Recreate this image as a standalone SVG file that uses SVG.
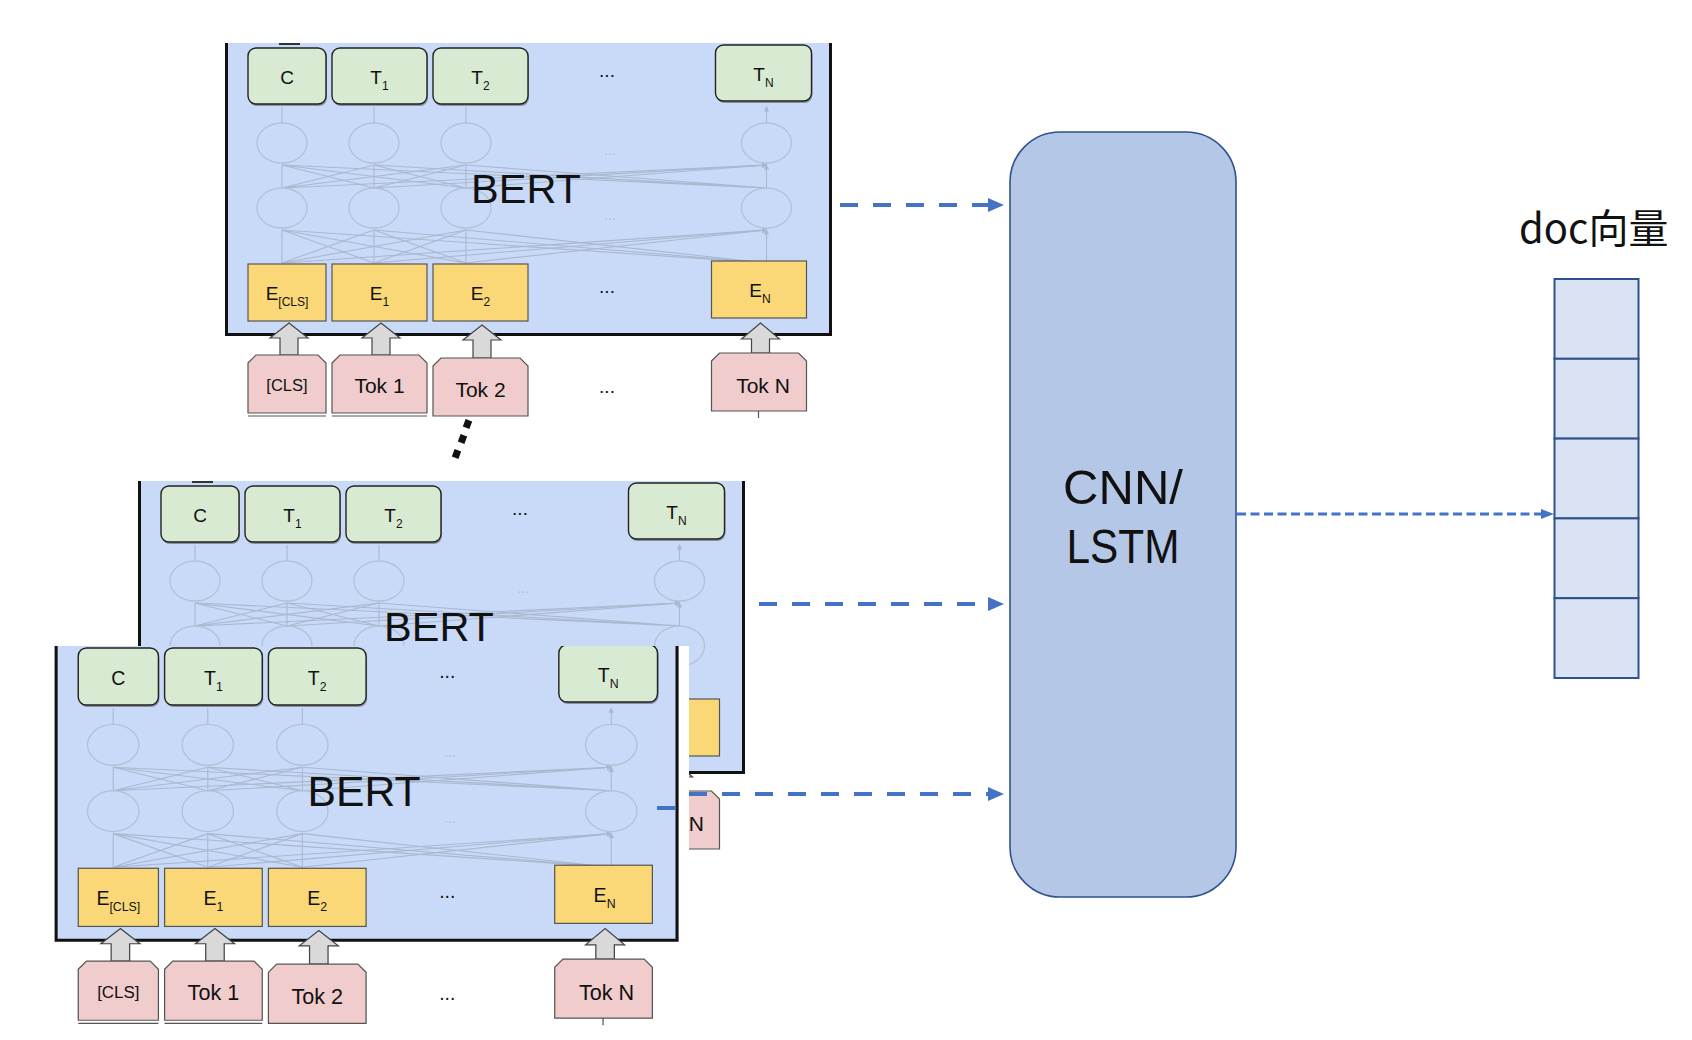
<svg xmlns="http://www.w3.org/2000/svg" xmlns:xlink="http://www.w3.org/1999/xlink" width="1692" height="1040" viewBox="0 0 1692 1040">
<style>
.bg{fill:#c9daf8}
.bd{fill:none;stroke:#111;stroke-width:3}
.g{fill:#d9ead3;stroke:#222;stroke-width:1.4}
.gs{fill:#555;opacity:.55}
.y{fill:#fad878;stroke:#555;stroke-width:1.2}
.p{fill:#f0cccc;stroke:#555;stroke-width:1.2}
.pl{stroke:#555;stroke-width:1.2}
.ar{fill:#d9d9d9;stroke:#444;stroke-width:1.2}
.lb{font-family:"Liberation Sans",Arial,sans-serif;font-size:19px;fill:#111;text-anchor:middle}
.tk{font-family:"Liberation Sans",Arial,sans-serif;font-size:21px;fill:#111;text-anchor:middle}
.cls{font-family:"Liberation Sans",Arial,sans-serif;font-size:16.5px;fill:#111;text-anchor:middle}
.sb{font-size:12px}
.bert{font-family:"Liberation Sans",Arial,sans-serif;font-size:41.5px;fill:#111;text-anchor:middle}
.nl{stroke:#aab8cf;stroke-width:1.1;fill:none}
.nc{stroke:#b3c0d6;stroke-width:1.3;fill:none}
.nd{font-family:"Liberation Sans",Arial,sans-serif;font-size:14px;fill:#b0bdd2;text-anchor:middle}
.big{font-family:"Liberation Sans",Arial,sans-serif;fill:#111}
.cjk{font-family:"Noto Sans CJK SC","Noto Sans",sans-serif;fill:#111}
.dash{stroke:#4472c4;stroke-width:4;fill:none;stroke-dasharray:18 15}
.dash2{stroke:#4472c4;stroke-width:3;fill:none;stroke-dasharray:9 4.5}
.ah{fill:#4472c4}
</style>
<defs>
<marker id="nm" viewBox="0 0 6 6" refX="5" refY="3" markerWidth="5" markerHeight="5" orient="auto"><path d="M0,0 L6,3 L0,6 Z" fill="#aab8cf"/></marker>
<g id="net">
<g class="nl" marker-end="url(#nm)">
<path d="M282,263 L282,230 M282,263 L374,230 M282,263 L466,230 M282,263 L766.5,230"/>
<path d="M374,263 L282,230 M374,263 L374,230 M374,263 L466,230 M374,263 L766.5,230"/>
<path d="M466,263 L282,230 M466,263 L374,230 M466,263 L466,230 M466,263 L766.5,230"/>
<path d="M766.5,263 L282,230 M766.5,263 L374,230 M766.5,263 L466,230 M766.5,263 L766.5,230"/>
<path d="M282,188 L282,165 M282,188 L374,165 M282,188 L466,165 M282,188 L766.5,165"/>
<path d="M374,188 L282,165 M374,188 L374,165 M374,188 L466,165 M374,188 L766.5,165"/>
<path d="M466,188 L282,165 M466,188 L374,165 M466,188 L466,165 M466,188 L766.5,165"/>
<path d="M766.5,188 L282,165 M766.5,188 L374,165 M766.5,188 L466,165 M766.5,188 L766.5,165"/>
<path d="M282,123 L282,107 M374,123 L374,107 M466,123 L466,107 M766.5,123 L766.5,107"/>
</g>
<g class="nc">
<ellipse cx="282" cy="143" rx="25" ry="20"/><ellipse cx="374" cy="143" rx="25" ry="20"/><ellipse cx="466" cy="143" rx="25" ry="20"/><ellipse cx="766.5" cy="143" rx="25" ry="20"/>
<ellipse cx="282" cy="208" rx="25" ry="20"/><ellipse cx="374" cy="208" rx="25" ry="20"/><ellipse cx="466" cy="208" rx="25" ry="20"/><ellipse cx="766.5" cy="208" rx="25" ry="20"/>
</g>
<text class="nd" x="610" y="155">...</text>
<text class="nd" x="610" y="220">...</text>
</g>
<clipPath id="c3" clipPathUnits="userSpaceOnUse"><rect x="0" y="646" width="689" height="394"/></clipPath>
</defs>

<!-- ===== Panel 1 ===== -->
<g id="bert-panel-1">
<rect class="bg" x="228" y="43" width="602" height="291"/>
<use xlink:href="#net" href="#net"/>
<path class="bd" d="M226.5,43 V334.5 H830.5 V43"/>
<rect x="279" y="43" width="21" height="2" fill="#333"/>
<g id="p1-c"><rect class="gs" x="249" y="50" width="78" height="56" rx="8"/><rect class="g" x="248" y="48" width="78" height="56" rx="8"/><text class="lb" x="287" y="84">C</text></g>
<g id="p1-t1"><rect class="gs" x="333" y="50" width="95" height="56" rx="8"/><rect class="g" x="332" y="48" width="95" height="56" rx="8"/><text class="lb" x="379.5" y="84">T<tspan class="sb" dy="6">1</tspan></text></g>
<g id="p1-t2"><rect class="gs" x="434" y="50" width="95" height="56" rx="8"/><rect class="g" x="433" y="48" width="95" height="56" rx="8"/><text class="lb" x="480.5" y="84">T<tspan class="sb" dy="6">2</tspan></text></g>
<g id="p1-tn"><rect class="gs" x="716.5" y="47" width="96" height="56" rx="8"/><rect class="g" x="715.5" y="45" width="96" height="56" rx="8"/><text class="lb" x="763.5" y="81">T<tspan class="sb" dy="6">N</tspan></text></g>
<text class="lb" x="607" y="77">...</text>
<text class="bert" x="526" y="203">BERT</text>
<g id="p1-ecls"><rect class="y" x="248" y="264" width="78" height="57"/><text class="lb" x="287" y="300">E<tspan class="sb" dy="6">[CLS]</tspan></text></g>
<g id="p1-e1"><rect class="y" x="332" y="264" width="95" height="57"/><text class="lb" x="379.5" y="300">E<tspan class="sb" dy="6">1</tspan></text></g>
<g id="p1-e2"><rect class="y" x="433" y="264" width="95" height="57"/><text class="lb" x="480.5" y="300">E<tspan class="sb" dy="6">2</tspan></text></g>
<g id="p1-en"><rect class="y" x="711.5" y="261" width="95" height="57"/><text class="lb" x="760" y="297">E<tspan class="sb" dy="6">N</tspan></text></g>
<text class="lb" x="607" y="293">...</text>
<path class="ar" d="M289,323 L308,338 L298,338 L298,355 L280,355 L280,338 L270,338 Z"/>
<path class="ar" d="M381,323 L400,338 L390,338 L390,355 L372,355 L372,338 L362,338 Z"/>
<path class="ar" d="M482,325 L501,340 L491,340 L491,358 L473,358 L473,340 L463,340 Z"/>
<path class="ar" d="M760.5,323 L779.5,339 L769.5,339 L769.5,353 L751.5,353 L751.5,339 L741.5,339 Z"/>
<g id="p1-tcls"><path class="p" d="M248,363 L256,355 L318,355 L326,363 L326,413 L248,413 Z"/><path class="pl" d="M248,416 H326"/><text class="cls" x="287" y="391">[CLS]</text></g>
<g id="p1-tok1"><path class="p" d="M332,363 L340,355 L419,355 L427,363 L427,413 L332,413 Z"/><path class="pl" d="M332,416 H427"/><text class="tk" x="379.5" y="393">Tok 1</text></g>
<g id="p1-tok2"><path class="p" d="M433,366 L441,358 L520,358 L528,366 L528,416 L433,416 Z"/><text class="tk" x="480.5" y="397">Tok 2</text></g>
<g id="p1-tokn"><path class="p" d="M711.5,361 L719.5,353 L798.5,353 L806.5,361 L806.5,411 L711.5,411 Z"/><path class="pl" d="M758.5,411 V418"/><text class="tk" x="763" y="393">Tok N</text></g>
<text class="lb" x="607" y="393">...</text>
</g>

<!-- continuation dots -->
<g id="dots" fill="#111">
<rect x="464" y="420" width="7" height="8" transform="rotate(20 467.5 424)"/>
<rect x="459" y="435" width="7" height="8" transform="rotate(20 462.5 439)"/>
<rect x="453" y="450" width="7" height="8" transform="rotate(20 456.5 454)"/>
</g>

<!-- ===== Panel 2 ===== -->
<g id="bert-panel-2" transform="translate(-87,438)">
<rect class="bg" x="228" y="43" width="602" height="291"/>
<use xlink:href="#net" href="#net"/>
<path class="bd" d="M226.5,43 V334.5 H830.5 V43"/>
<rect x="279" y="43" width="21" height="2" fill="#333"/>
<g id="p2-c"><rect class="gs" x="249" y="50" width="78" height="56" rx="8"/><rect class="g" x="248" y="48" width="78" height="56" rx="8"/><text class="lb" x="287" y="84">C</text></g>
<g id="p2-t1"><rect class="gs" x="333" y="50" width="95" height="56" rx="8"/><rect class="g" x="332" y="48" width="95" height="56" rx="8"/><text class="lb" x="379.5" y="84">T<tspan class="sb" dy="6">1</tspan></text></g>
<g id="p2-t2"><rect class="gs" x="434" y="50" width="95" height="56" rx="8"/><rect class="g" x="433" y="48" width="95" height="56" rx="8"/><text class="lb" x="480.5" y="84">T<tspan class="sb" dy="6">2</tspan></text></g>
<g id="p2-tn"><rect class="gs" x="716.5" y="47" width="96" height="56" rx="8"/><rect class="g" x="715.5" y="45" width="96" height="56" rx="8"/><text class="lb" x="763.5" y="81">T<tspan class="sb" dy="6">N</tspan></text></g>
<text class="lb" x="607" y="77">...</text>
<text class="bert" x="526" y="203">BERT</text>
<g id="p2-en"><rect class="y" x="711.5" y="261" width="95" height="57"/></g>
<path class="ar" d="M760.5,323 L779.5,339 L769.5,339 L769.5,353 L751.5,353 L751.5,339 L741.5,339 Z"/>
<g id="p2-tokn"><path class="p" d="M711.5,361 L719.5,353 L798.5,353 L806.5,361 L806.5,411 L711.5,411 Z"/><text class="tk" x="764" y="393">Tok N</text></g>
</g>

<!-- ===== Panel 3 ===== -->
<rect x="40" y="646" width="649" height="394" fill="#fff"/>
<g clip-path="url(#c3)">
<g id="bert-panel-3" transform="matrix(1.028 0 0 1.02 -176.7 599)">
<rect class="bg" x="228" y="43" width="602" height="291"/>
<use xlink:href="#net" href="#net"/>
<path class="bd" d="M226.5,43 V334.5 H830.5 V43"/>
<g id="p3-c"><rect class="gs" x="249" y="50" width="78" height="56" rx="8"/><rect class="g" x="248" y="48" width="78" height="56" rx="8"/><text class="lb" x="287" y="84">C</text></g>
<g id="p3-t1"><rect class="gs" x="333" y="50" width="95" height="56" rx="8"/><rect class="g" x="332" y="48" width="95" height="56" rx="8"/><text class="lb" x="379.5" y="84">T<tspan class="sb" dy="6">1</tspan></text></g>
<g id="p3-t2"><rect class="gs" x="434" y="50" width="95" height="56" rx="8"/><rect class="g" x="433" y="48" width="95" height="56" rx="8"/><text class="lb" x="480.5" y="84">T<tspan class="sb" dy="6">2</tspan></text></g>
<g id="p3-tn"><rect class="gs" x="716.5" y="47" width="96" height="56" rx="8"/><rect class="g" x="715.5" y="45" width="96" height="56" rx="8"/><text class="lb" x="763.5" y="81">T<tspan class="sb" dy="6">N</tspan></text></g>
<text class="lb" x="607" y="77">...</text>
<text class="bert" x="526" y="203">BERT</text>
<g id="p3-ecls"><rect class="y" x="248" y="264" width="78" height="57"/><text class="lb" x="287" y="300">E<tspan class="sb" dy="6">[CLS]</tspan></text></g>
<g id="p3-e1"><rect class="y" x="332" y="264" width="95" height="57"/><text class="lb" x="379.5" y="300">E<tspan class="sb" dy="6">1</tspan></text></g>
<g id="p3-e2"><rect class="y" x="433" y="264" width="95" height="57"/><text class="lb" x="480.5" y="300">E<tspan class="sb" dy="6">2</tspan></text></g>
<g id="p3-en"><rect class="y" x="711.5" y="261" width="95" height="57"/><text class="lb" x="760" y="297">E<tspan class="sb" dy="6">N</tspan></text></g>
<text class="lb" x="607" y="293">...</text>
<path class="ar" d="M289,323 L308,338 L298,338 L298,355 L280,355 L280,338 L270,338 Z"/>
<path class="ar" d="M381,323 L400,338 L390,338 L390,355 L372,355 L372,338 L362,338 Z"/>
<path class="ar" d="M482,325 L501,340 L491,340 L491,358 L473,358 L473,340 L463,340 Z"/>
<path class="ar" d="M760.5,323 L779.5,339 L769.5,339 L769.5,353 L751.5,353 L751.5,339 L741.5,339 Z"/>
<g id="p3-tcls"><path class="p" d="M248,363 L256,355 L318,355 L326,363 L326,413 L248,413 Z"/><path class="pl" d="M248,416 H326"/><text class="cls" x="287" y="391">[CLS]</text></g>
<g id="p3-tok1"><path class="p" d="M332,363 L340,355 L419,355 L427,363 L427,413 L332,413 Z"/><path class="pl" d="M332,416 H427"/><text class="tk" x="379.5" y="393">Tok 1</text></g>
<g id="p3-tok2"><path class="p" d="M433,366 L441,358 L520,358 L528,366 L528,416 L433,416 Z"/><text class="tk" x="480.5" y="397">Tok 2</text></g>
<g id="p3-tokn"><path class="p" d="M711.5,361 L719.5,353 L798.5,353 L806.5,361 L806.5,411 L711.5,411 Z"/><path class="pl" d="M758.5,411 V418"/><text class="tk" x="762" y="393">Tok N</text></g>
<text class="lb" x="607" y="393">...</text>
</g>
</g>

<!-- ===== CNN/LSTM ===== -->
<g id="cnn-lstm">
<rect x="1010" y="132" width="226" height="765" rx="50" fill="#b4c7e7" stroke="#2f528f" stroke-width="1.6"/>
<text class="big" x="1123" y="504" font-size="49" text-anchor="middle">CNN/</text>
<text class="big" x="1123" y="563" font-size="49" text-anchor="middle" textLength="113" lengthAdjust="spacingAndGlyphs">LSTM</text>
</g>

<!-- ===== doc vector ===== -->
<g id="doc-vector">
<text class="cjk" x="1519" y="243" font-size="40">doc向量</text>
<g fill="#dae3f3" stroke="#2f528f" stroke-width="2">
<rect x="1554.5" y="279" width="84" height="79.8"/>
<rect x="1554.5" y="358.8" width="84" height="79.8"/>
<rect x="1554.5" y="438.6" width="84" height="79.8"/>
<rect x="1554.5" y="518.4" width="84" height="79.8"/>
<rect x="1554.5" y="598.2" width="84" height="79.8"/>
</g>
</g>

<!-- ===== connectors ===== -->
<g id="connectors">
<path class="dash" d="M840,205 H988"/>
<path class="ah" d="M988,198 L1004,205 L988,212 Z"/>
<path class="dash" d="M759,604 H988"/>
<path class="ah" d="M988,597 L1004,604 L988,611 Z"/>
<path class="dash" d="M689,794 H988"/>
<path class="ah" d="M988,787 L1004,794 L988,801 Z"/>
<path d="M657,808 H675" stroke="#4472c4" stroke-width="4"/>
<path class="dash2" d="M1237,514 H1541"/>
<path class="ah" d="M1541,509 L1554,514 L1541,519 Z"/>
</g>
</svg>
